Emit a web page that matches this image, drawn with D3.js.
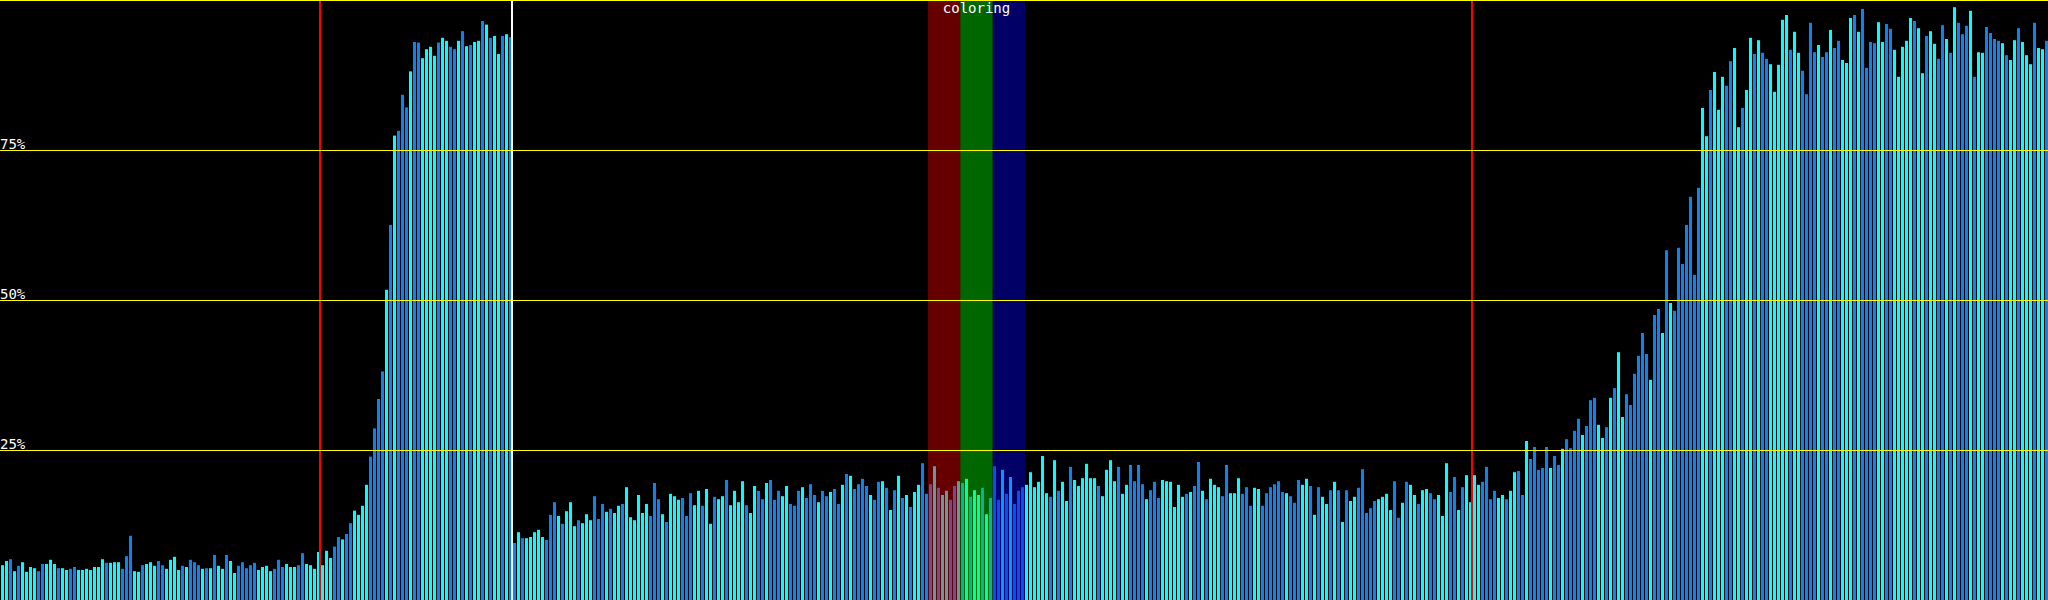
<!DOCTYPE html>
<html>
<head>
<meta charset="utf-8">
<script src="https://cdn.jsdelivr.net/npm/d3@7/dist/d3.min.js"></script>
<style>
    body { margin: 0; background: #000; overflow: hidden; }
    svg { display: block; }
    .tick-label, .band-title { font-family: "DejaVu Sans Mono", monospace; font-size: 14px; fill: #fff; }
</style>
</head>
<body>
<svg id="chart"></svg>
<script>
/** Bar heights in percent, one per sample, left to right. */
var valuesStart = [
    5.8,6.5,6.8,4.8,5.7,6.3,4.7,5.5,5.3,4.8,
    6.0,6.0,6.7,6.0,5.3,5.3,5.0,5.2,5.5,5.0,
    5.0,5.2,5.0,5.5,5.5,6.8,6.2,6.2,6.3,6.3,
    5.2,7.3,10.7,4.8,4.7,5.8,6.0,6.3,5.7,6.5,
    5.8,5.2,6.7,7.2,5.0,5.7,5.5,6.7,6.3,5.8,
    5.2,5.3,5.3,7.5,5.7,5.2,7.5,6.5,4.5,5.7,
    6.3,5.3,5.8,6.2,5.0,5.5,5.7,4.8,5.2,6.7,
    5.5,6.0,5.5,5.5,5.8,7.8,6.0,5.8,5.2,8.0
];
var valuesFirstRise = [
    5.8,8.2,7.0,8.9,10.5,10.1,11.0,12.8,14.9,14.2,
    15.7,19.2,23.9,28.6,33.5,38.1,51.7,62.5,77.4,78.2,
    84.2,82.1,88.1,93.0,92.9,90.3,91.8,92.2,90.7,92.9,
    93.7,93.2,92.2,91.8,93.2,94.8,92.3,92.5,93.0,93.2,
    96.5,95.9,93.7,94.0,91.0,94.0,94.3,93.8
];
var valuesMiddleA = [
    9.5,11.3,10.3,10.3,10.5,11.3,11.7,10.5,10.0,14.2,
    16.3,14.0,12.7,14.8,16.3,12.3,13.3,12.8,14.3,13.3,
    17.3,13.5,16.0,14.7,15.2,14.5,15.7,16.0,18.8,13.8,
    13.3,17.5,14.5,16.0,14.0,19.5,16.8,14.3,13.0,17.7,
    17.3,16.7,17.0,14.0,17.8,15.8,18.2,15.7,18.5,12.7,
    17.2,16.8,17.3,20.0,15.8,18.2,16.3,19.8,15.8,14.5,
    19.0,18.2,16.8,19.5,20.0,16.7,18.2,17.3,19.0,16.0,
    15.7,18.2,18.8,17.0,19.3,17.5,16.3,18.2,17.3,18.0,
    18.5,16.0,19.2,21.0,20.7,18.5,19.3,20.2,19.0,17.5,
    16.7,19.7,19.8,18.7,15.0,18.3,20.7,17.0,17.5,15.5,
    18.0,19.2,22.8,17.7,19.3,22.3,18.7,17.5,18.2,16.7,
    19.0,19.8,19.5,20.2,17.2,18.3,17.5,18.7,14.3,17.0
];
var valuesMiddleB = [
    22.3,16.7,21.7,17.7,20.5,16.0,18.2,18.8,19.2,21.3,
    18.8,19.7,24.0,17.8,17.2,23.3,18.2,19.7,16.5,22.2,
    20.0,19.0,20.3,22.7,20.3,20.3,19.0,17.3,21.7,23.3,
    19.8,22.2,17.7,19.2,22.5,19.8,22.5,19.3,16.8,18.3,
    19.7,17.0,20.0,19.8,19.7,15.5,19.2,17.2,17.7,18.0,
    19.0,23.0,18.2,16.8,20.2,19.2,18.8,17.3,22.5,17.8,
    17.8,20.3,17.7,18.8,15.7,18.7,18.5,15.7,17.8,18.8,
    19.3,19.8,18.0,17.8,17.3,16.2,20.0,19.2,20.2,19.0,
    14.2,18.8,17.2,16.0,18.3,19.7,18.3,13.0,18.3,16.5,
    17.2,18.7,21.8,14.5,15.3,16.5,16.8,17.2,17.7,15.0,
    19.8,13.7,16.2,19.7,19.2,17.5,16.0,18.3,18.5,17.8,
    16.8,17.5,14.0,22.8,18.0,20.5,15.0,18.8,20.8,16.3
];
var valuesSecondRise = [
    20.8,19.2,19.7,22.2,16.8,18.2,17.0,17.5,16.8,18.2,
    21.3,21.5,17.5,26.5,23.5,25.5,21.7,22.0,25.5,22.0,
    24.0,22.5,25.2,26.8,25.3,28.2,
    30.2,27.5,29.0,33.3,33.7,29.2,27.0,28.8,33.7,35.3,
    41.3,30.5,34.3,32.5,37.7,40.7,44.5,41.0,36.7,47.5,
    48.5,44.5,58.3,49.5,48.2,58.7,56.0,62.5,67.2,54.2,
    68.7,82.0,77.3,85.0,88.0,81.7,87.2,85.7,89.8,92.0,
    78.8,82.0,85.0,93.7,91.0,93.3,91.2,90.2,89.3,84.7,
    89.2,96.7,97.5,91.7,94.7,91.2,88.2,84.3,96.2
];
var valuesEnd = [
    91.3,92.5,90.5,91.3,95.0,92.0,93.2,90.0,89.5,97.0,
    97.5,94.7,98.5,88.7,93.0,92.8,96.3,93.0,96.0,95.2,
    91.7,87.2,92.2,93.2,97.0,96.5,95.3,87.8,94.0,94.8,
    92.7,90.2,95.8,93.5,91.2,98.8,96.2,94.3,95.7,98.2,
    87.2,91.3,91.2,95.5,94.5,93.5,93.2,92.8,90.8,90.0,
    93.3,95.3,93.0,90.8,89.3,96.2,92.0,91.8,93.2
];

/** Tone of each bar: 0 = cyan, 1 = blue. */
var toneStart = [
    0,0,1,0,1,0,0,0,0,1, 1,0,0,0,1,0,0,1,1,0, 0,0,0,0,0,0,1,0,0,0, 1,1,1,0,0,1,0,0,0,1,
    1,0,0,0,0,1,0,1,1,1, 0,1,0,1,0,0,1,0,0,1, 1,1,1,1,0,0,0,0,1,1, 1,0,0,0,1,1,0,0,0,0
];
var toneFirstRise = [
    0,0,0,1,1,0,1,1,0,0, 0,0,1,1,1,1,0,1,0,1, 1,1,0,1,1,0,0,0,0,1, 0,0,1,1,0,1,0,1,0,0,
    1,0,1,0,0,1,0,1
];
var toneMiddleA = [
    1,0,1,0,0,0,0,0,1,1, 1,0,1,0,0,0,1,0,0,0, 1,1,1,0,1,0,0,1,0,0, 0,0,0,0,1,1,1,0,1,0,
    0,0,1,1,1,0,0,1,0,0, 1,0,0,1,0,0,0,0,1,0, 0,1,1,0,1,1,1,0,0,1, 1,1,0,1,1,1,0,1,1,0,
    1,1,0,1,0,1,1,1,1,0, 1,1,0,1,0,1,0,1,0,1, 0,0,1,1,1,0,1,0,0,1, 1,0,1,0,1,0,0,1,0,1
];
var toneMiddleB = [
    1,1,0,1,0,1,1,1,0,0, 0,0,0,0,1,0,1,0,0,1, 0,0,0,0,0,0,1,0,0,0, 0,1,0,0,1,1,1,1,0,1,
    1,1,0,0,0,0,0,0,1,0, 1,1,0,1,0,0,0,1,1,0, 0,0,1,1,1,0,0,1,1,1, 1,1,1,0,1,1,1,0,0,1,
    0,1,0,0,1,0,1,0,1,0, 0,1,1,1,1,1,0,0,0,0, 1,1,0,1,0,0,1,0,0,1, 1,0,0,0,1,1,0,1,0,0
];
var toneSecondRise = [
    0,0,1,1,1,1,0,0,1,0, 0,1,1,0,1,1,1,1,1,0, 1,1,0,1,1,1,
    1,0,1,1,1,0,0,1,0,1, 0,0,1,1,1,1,1,1,0,1, 1,0,1,0,1,1,1,1,1,1, 1,0,0,1,0,0,0,1,1,0,
    0,1,0,0,1,0,1,1,0,0, 0,0,0,1,0,0,1,1,1
];
var toneEnd = [
    1,0,1,1,0,1,1,0,0,0, 1,0,1,1,1,1,0,0,1,1, 0,0,0,0,0,1,0,0,1,0, 0,1,1,0,1,0,1,1,1,0,
    1,0,0,1,1,1,1,0,1,0, 0,1,0,0,0,1,0,0,1
];

/** Grid ticks in percent; the top one carries no label. */
var gridTicks = [25, 50, 75, 100];
var gridLabels = ['25%', '50%', '75%', ''];

/** Marker lines, given as the sample index where they sit. */
var markerIndex = [80, 128, 368];
var markerKind = ['limit', 'cursor', 'limit'];

/** Coloring bands: the samples they span and their channels. */
var bandFirst = 232,
    bandLast = 256;
var bandChannel = ['red', 'green', 'blue'];
var bandTitle = 'coloring';

var values = [].concat(valuesStart, valuesFirstRise, valuesMiddleA, valuesMiddleB, valuesSecondRise, valuesEnd);
var tones = [].concat(toneStart, toneFirstRise, toneMiddleA, toneMiddleB, toneSecondRise, toneEnd);

var width = 2048,
    height = 600;

var svg = d3.select('#chart')
    .attr('width', width)
    .attr('height', height);

svg.append('rect')
    .attr('width', width)
    .attr('height', height)
    .style('fill', '#000');

/** 4px per sample, 3px bar, 1px gap */
var xScale = d3.scaleBand()
    .domain(d3.range(values.length + 1))
    .range([0, width + 4])
    .paddingInner(0.25)
    .paddingOuter(0.125)
    .align(1);

var yScale = d3.scaleLinear()
    .domain([0, 100])
    .range([height, 0]);

var toneColor = d3.scaleOrdinal()
    .domain([0, 1])
    .range(['#00ffff', '#0a84f0']);

var channelColor = d3.scaleOrdinal()
    .domain(['red', 'green', 'blue'])
    .range(['#ff0000', '#00ff00', '#0000ff']);

var markerColor = d3.scaleOrdinal()
    .domain(['limit', 'cursor'])
    .range(['#ff0000', '#ffffff']);

// bars
svg.append('g')
    .selectAll('rect')
    .data(values)
    .enter()
    .append('rect')
    .attr('x', function (d, i) {
        return xScale(i);
    })
    .attr('y', function (d) {
        return yScale(d);
    })
    .attr('width', xScale.bandwidth())
    .attr('height', function (d) {
        return height - yScale(d);
    })
    .style('fill', function (d, i) {
        return toneColor(tones[i]);
    });

// coloring bands, split evenly over their span and laid over the bars
var bandScale = d3.scaleBand()
    .domain(bandChannel)
    .range([xScale(bandFirst) - 1, xScale(bandLast)]);

svg.append('g')
    .selectAll('rect')
    .data(bandChannel)
    .enter()
    .append('rect')
    .attr('x', function (d) {
        return bandScale(d);
    })
    .attr('y', 0)
    .attr('width', bandScale.bandwidth())
    .attr('height', height)
    .style('fill', function (d) {
        return channelColor(d);
    })
    .style('opacity', 0.4);

// marker lines
svg.append('g')
    .selectAll('line')
    .data(markerIndex)
    .enter()
    .append('line')
    .attr('x1', function (d) {
        return xScale(d) - 1;
    })
    .attr('x2', function (d) {
        return xScale(d) - 1;
    })
    .attr('y1', 0)
    .attr('y2', height)
    .style('stroke', function (d, i) {
        return markerColor(markerKind[i]);
    })
    .style('stroke-width', 2);

// grid lines
var grid = svg.append('g');
grid.selectAll('line')
    .data(gridTicks)
    .enter()
    .append('line')
    .attr('x1', 0)
    .attr('x2', width)
    .attr('y1', function (d) {
        return yScale(d) + 0.5;
    })
    .attr('y2', function (d) {
        return yScale(d) + 0.5;
    })
    .style('stroke', '#ffff00')
    .style('stroke-width', 1);

grid.selectAll('text')
    .data(gridTicks)
    .enter()
    .append('text')
    .attr('class', 'tick-label')
    .attr('x', 0)
    .attr('y', function (d) {
        return yScale(d) - 1;
    })
    .text(function (d, i) {
        return gridLabels[i];
    });

// band title
var bandRange = bandScale.range();
svg.append('text')
    .attr('class', 'band-title')
    .attr('x', (bandRange[0] + bandRange[1]) / 2)
    .attr('y', 13)
    .attr('text-anchor', 'middle')
    .text(bandTitle);
</script>
</body>
</html>
